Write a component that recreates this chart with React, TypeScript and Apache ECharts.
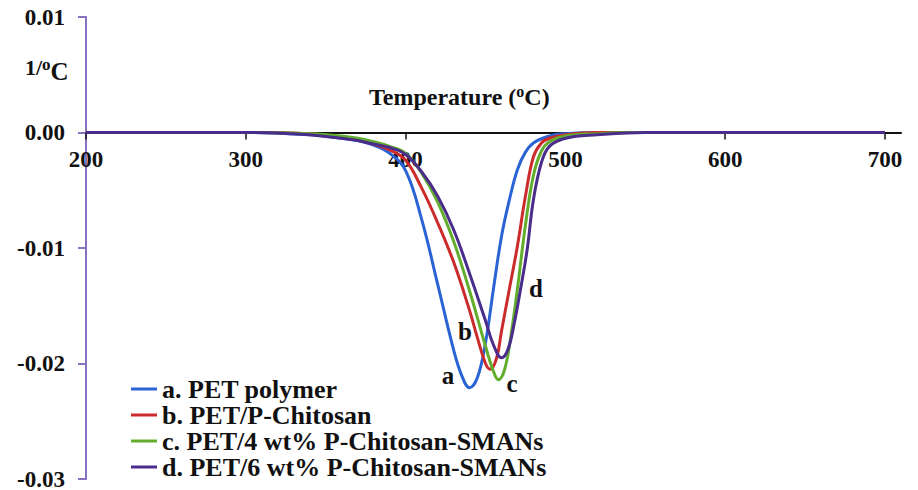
import React, { useEffect, useRef } from "react";
import * as echarts from "echarts";

const FONT = "Liberation Serif";

const xTicks = [200, 300, 400, 500, 600, 700];

const seriesNames = [
  "a. PET polymer",
  "b. PET/P-Chitosan",
  "c. PET/4 wt% P-Chitosan-SMANs",
  "d. PET/6 wt% P-Chitosan-SMANs",
];
const seriesColors = ["#2a63d4", "#cc2b2b", "#62ad2c", "#4a2c8a"];

const tempA = [200, 300, 340, 360, 370, 380, 390, 400, 410, 420, 430, 435, 440, 445, 450, 455, 460, 465, 470, 475, 480, 490, 500, 520, 600, 700];
const valA = [0, 0, -0.0002, -0.0005, -0.0007, -0.0011, -0.0018, -0.0033, -0.0075, -0.0131, -0.0188, -0.0210, -0.0221, -0.0212, -0.0182, -0.0135, -0.0090, -0.0058, -0.0032, -0.0017, -0.0009, -0.0003, -0.0001, 0, 0, 0];

const tempB = [200, 300, 340, 360, 370, 380, 390, 400, 410, 420, 430, 440, 445, 450, 453, 457, 460, 465, 470, 475, 480, 485, 490, 500, 520, 600, 700];
const valB = [0, 0, -0.0001, -0.0004, -0.0006, -0.0010, -0.0015, -0.0024, -0.0048, -0.0078, -0.0112, -0.0154, -0.0178, -0.0200, -0.0205, -0.0195, -0.0172, -0.0135, -0.0098, -0.0055, -0.0021, -0.0009, -0.0005, -0.0002, 0, 0, 0];

const tempC = [200, 300, 340, 360, 370, 380, 390, 400, 410, 420, 430, 440, 450, 455, 458, 462, 466, 470, 475, 480, 485, 490, 500, 520, 540, 600, 700];
const valC = [0, 0, -0.0001, -0.0003, -0.0005, -0.0008, -0.0012, -0.0018, -0.0035, -0.0060, -0.0094, -0.0137, -0.0185, -0.0207, -0.0214, -0.0205, -0.0175, -0.0135, -0.0080, -0.0037, -0.0016, -0.0008, -0.0003, -0.0001, 0, 0, 0];

const tempD = [200, 300, 330, 340, 360, 370, 380, 390, 400, 410, 420, 430, 440, 450, 455, 460, 464, 468, 472, 476, 480, 485, 490, 500, 520, 550, 600, 700];
const valD = [0, 0, -0.0001, -0.0002, -0.0005, -0.0007, -0.0010, -0.0013, -0.0019, -0.0034, -0.0055, -0.0084, -0.0122, -0.0163, -0.0184, -0.0195, -0.0188, -0.0165, -0.0135, -0.0102, -0.0058, -0.0026, -0.0012, -0.0005, -0.0002, 0, 0, 0];

const temps = [tempA, tempB, tempC, tempD];
const vals = [valA, valB, valC, valD];

const curveLabels = [
  { text: "a", x: 448, y: 375 },
  { text: "b", x: 465, y: 331 },
  { text: "c", x: 512, y: 383 },
  { text: "d", x: 536, y: 288 },
];

export default function App() {
  const ref = useRef<HTMLDivElement>(null);
  useEffect(() => {
    if (!ref.current) return;
    const chart = echarts.init(ref.current, null, { renderer: "svg" });
    const series = seriesNames.map((name, i) => ({
      name,
      type: "line",
      xAxisIndex: 0,
      yAxisIndex: 0,
      data: temps[i].map((t, j) => [t, vals[i][j]]),
      smooth: 0.4,
      symbol: "none",
      lineStyle: { color: seriesColors[i], width: 3 },
      itemStyle: { color: seriesColors[i] },
      z: 3 + i,
    }));
    const H = 490;
    const top = 17;
    const bottom = 11;
    const plotH = H - top - bottom;
    const zeroY = top + plotH * (0.01 / 0.04);
    chart.setOption({
      animation: false,
      backgroundColor: "#ffffff",
      textStyle: { fontFamily: FONT },
      grid: [
        { left: 86, right: 17, top, bottom, containLabel: false, outerBoundsMode: "none" },
        { left: 86, right: 17, top, bottom: H - zeroY, containLabel: false, outerBoundsMode: "none" },
      ],
      xAxis: [
        {
          type: "value",
          gridIndex: 0,
          min: 200,
          max: 710,
          interval: 100,
          axisLine: { show: false },
          axisTick: { show: false },
          axisLabel: { show: false },
          splitLine: { show: false },
        },
        {
          type: "value",
          gridIndex: 1,
          position: "bottom",
          min: 200,
          max: 710,
          interval: 100,
          axisLine: { onZero: false, lineStyle: { color: "#111", width: 2 } },
          axisTick: {
            show: true,
            length: 7,
            customValues: xTicks,
            lineStyle: { color: "#111", width: 1.5 },
          },
          axisLabel: {
            customValues: xTicks,
            margin: 15,
            fontSize: 23,
            fontWeight: "bold",
            fontFamily: FONT,
            color: "#111",
          },
          splitLine: { show: false },
        },
      ],
      yAxis: [
        {
          type: "value",
          gridIndex: 0,
          min: -0.03,
          max: 0.01,
          interval: 0.01,
          axisLine: { show: true, onZero: false, lineStyle: { color: "#8a70c0", width: 2 } },
          axisTick: { show: true, length: 8, lineStyle: { color: "#8a70c0", width: 2 } },
          axisLabel: {
            margin: 21,
            fontSize: 23,
            fontWeight: "bold",
            fontFamily: FONT,
            color: "#111",
            formatter: (v: number) => (Math.abs(v) < 1e-9 ? "0.00" : v.toFixed(2)),
          },
          splitLine: { show: false },
        },
        {
          type: "value",
          gridIndex: 1,
          show: false,
          min: 0,
          max: 1,
        },
      ],
      legend: {
        show: true,
        orient: "vertical",
        left: 131,
        top: 376,
        height: 112,
        padding: 0,
        itemWidth: 26,
        itemHeight: 12,
        itemGap: 0,
        data: seriesNames.map((n, i) => ({
          name: n,
          itemStyle: { color: seriesColors[i] },
          icon: "path://M0,5 L26,5 L26,8 L0,8 Z",
        })),
        formatter: (name: string) => `{t|${name}}`,
        textStyle: {
          fontSize: 26,
          fontWeight: "bold",
          fontFamily: FONT,
          color: "#111",
          rich: {
            t: { fontSize: 26, fontWeight: "bold", fontFamily: FONT, color: "#111", lineHeight: 23 },
          },
        },
      },
      graphic: [
        {
          type: "text",
          left: 369,
          top: 83,
          style: {
            text: "{n|Temperature (}{s|o}{n|C)}",
            fill: "#111",
            rich: {
              n: { fontSize: 24, fontWeight: "bold", fontFamily: FONT, fill: "#111", verticalAlign: "bottom", lineHeight: 26 },
              s: { fontSize: 16, fontWeight: "bold", fontFamily: FONT, fill: "#111", verticalAlign: "top", lineHeight: 26 },
            },
          },
        },
        {
          type: "text",
          left: 25,
          top: 56,
          style: {
            text: "{n|1/}{s|o}{c|C}",
            fill: "#111",
            rich: {
              n: { fontSize: 22, fontWeight: "bold", fontFamily: FONT, fill: "#111", verticalAlign: "top", lineHeight: 28 },
              s: { fontSize: 17, fontWeight: "bold", fontFamily: FONT, fill: "#111", verticalAlign: "top", lineHeight: 28 },
              c: { fontSize: 25, fontWeight: "bold", fontFamily: FONT, fill: "#111", verticalAlign: "bottom", lineHeight: 28 },
            },
          },
        },
        ...curveLabels.map((l) => ({
          type: "text",
          x: l.x,
          y: l.y,
          z: 10,
          style: {
            text: l.text,
            fontSize: 25,
            fontWeight: "bold",
            fontFamily: FONT,
            fill: "#111",
            align: "center",
            verticalAlign: "middle",
          },
        })),
      ],
      series,
    });
    return () => chart.dispose();
  }, []);
  return (
    <div
      ref={ref}
      style={{ position: "fixed", left: 0, top: 0, width: 918, height: 490, background: "#fff" }}
    />
  );
}
